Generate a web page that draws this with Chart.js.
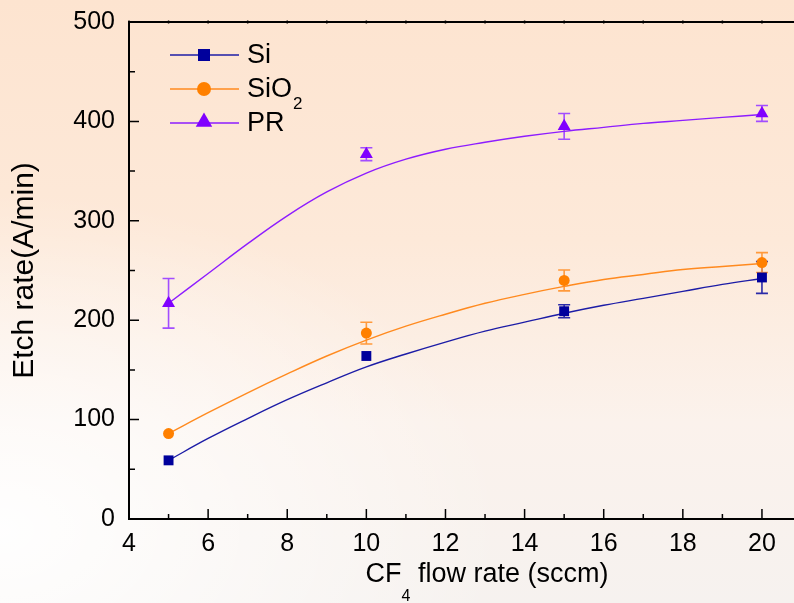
<!DOCTYPE html>
<html>
<head>
<meta charset="utf-8">
<script src="https://cdn.jsdelivr.net/npm/chart.js@4.4.1/dist/chart.umd.min.js"></script>
<style>
    html, body { margin: 0; padding: 0; }
    body {
        width: 794px;
        height: 603px;
        overflow: hidden;
        background:
            radial-gradient(ellipse at 0% 88%, rgba(255,255,255,0.95) 0%, rgba(255,255,255,0) 45%),
            linear-gradient(to bottom, #fde4d0 0%, #fde9d9 40%, #fbf2ec 70%, #f6f2ef 100%);
    }
    canvas { display: block; }
</style>
</head>
<body>
<canvas id="etchChart" width="794" height="603"></canvas>
<script>
// Measured points
const flowRates = [5, 10, 15, 20];
const siRate = [59, 164, 209, 243];
const siErr = [0, 0, 6.5, 16];
const sio2Rate = [86, 187, 240, 258];
const sio2Err = [0, 11, 10.5, 10];
const prRate = [217, 367, 395, 408];
const prErr = [25, 6.5, 13, 8];

// Fit curves
const fitX = [5, 6, 7, 8, 9, 10, 11, 12, 13, 14, 15, 16, 17, 18, 19, 20];
const siFit = [59, 81, 101, 120, 137, 153, 166, 178, 189, 198, 207, 215, 222, 229, 236, 242];
const sio2Fit = [86, 107, 127, 146, 164, 180, 194, 206, 217, 226, 234, 241, 246, 251, 254, 257];
const prFit = [217, 247, 277, 305, 329, 348, 362, 372, 379, 385, 390, 394, 398, 401, 404, 407];

const seriesNames = ['Si', 'SiO', 'PR'];
const FONT = "'Liberation Sans', Arial, sans-serif";

const colors = {
    si: { mark: '#00009c', line: '#1c1ca6', bar: '#2a2aa8' },
    sio2: { mark: '#ff8000', line: '#ff8a1f', bar: '#ff9a3c' },
    pr: { mark: '#8000ff', line: '#8d1cff', bar: '#a24dff' }
};

function toPoints(xs, ys) {
    return xs.map((x, i) => ({ x: x, y: ys[i] }));
}

function pointSet(label, ys, c, style, radius) {
    return {
        label: label,
        data: toPoints(flowRates, ys),
        showLine: false,
        pointStyle: style,
        pointRadius: radius,
        pointBackgroundColor: c.mark,
        pointBorderColor: c.mark,
        pointBorderWidth: 0
    };
}

function fitSet(ys, c) {
    return {
        data: toPoints(fitX, ys),
        showLine: true,
        borderColor: c.line,
        borderWidth: 1.4,
        pointRadius: 0,
        tension: 0.4
    };
}

function drawMarker(ctx, style, x, y, r, color) {
    ctx.fillStyle = color;
    ctx.beginPath();
    if (style === 'rect') {
        const s = r * Math.SQRT1_2;
        ctx.rect(x - s, y - s, 2 * s, 2 * s);
    } else if (style === 'circle') {
        ctx.arc(x, y, r, 0, Math.PI * 2);
    } else {
        ctx.moveTo(x, y - r);
        ctx.lineTo(x + r * 0.866, y + r * 0.5);
        ctx.lineTo(x - r * 0.866, y + r * 0.5);
        ctx.closePath();
    }
    ctx.fill();
}

// Error bars under the markers
const errorBars = {
    id: 'errorBars',
    beforeDatasetsDraw(chart) {
        const { ctx, scales: { x, y } } = chart;
        const sets = [[siRate, siErr, colors.si], [sio2Rate, sio2Err, colors.sio2], [prRate, prErr, colors.pr]];
        ctx.save();
        ctx.lineWidth = 1.6;
        sets.forEach(([vals, errs, c]) => {
            ctx.strokeStyle = c.bar;
            flowRates.forEach((f, i) => {
                if (!errs[i]) return;
                const px = x.getPixelForValue(f);
                const top = y.getPixelForValue(vals[i] + errs[i]);
                const bot = y.getPixelForValue(vals[i] - errs[i]);
                ctx.beginPath();
                ctx.moveTo(px, top); ctx.lineTo(px, bot);
                ctx.moveTo(px - 6, top); ctx.lineTo(px + 6, top);
                ctx.moveTo(px - 6, bot); ctx.lineTo(px + 6, bot);
                ctx.stroke();
            });
        });
        ctx.restore();
    }
};

// Inner ticks, top axis, titles and legend
const decorations = {
    id: 'decorations',
    afterDraw(chart) {
        const { ctx, chartArea: a, scales: { x, y } } = chart;
        ctx.save();
        ctx.strokeStyle = '#000';

        // top axis
        ctx.lineWidth = 2;
        ctx.beginPath();
        ctx.moveTo(a.left, a.top); ctx.lineTo(a.right, a.top);
        ctx.stroke();

        ctx.lineWidth = 1.5;
        ctx.beginPath();
        for (let v = 4; v <= 20; v++) {
            const px = x.getPixelForValue(v);
            const len = v % 2 === 0 ? 10 : 5;
            ctx.moveTo(px, a.bottom); ctx.lineTo(px, a.bottom - len);
            ctx.moveTo(px, a.top - 1.5); ctx.lineTo(px, a.top + 1.5);
        }
        for (let v = 0; v <= 500; v += 50) {
            const py = y.getPixelForValue(v);
            const len = v % 100 === 0 ? 10 : 6;
            ctx.moveTo(a.left, py); ctx.lineTo(a.left + len, py);
        }
        ctx.stroke();

        // axis titles
        ctx.fillStyle = '#000';
        ctx.textBaseline = 'alphabetic';
        ctx.font = '27px ' + FONT;
        const w1 = ctx.measureText('CF').width;
        const w3 = ctx.measureText(' flow rate (sccm)').width;
        ctx.font = '16px ' + FONT;
        const w2 = ctx.measureText('4').width;
        const tx = 487 - (w1 + w2 + w3) / 2;
        ctx.font = '27px ' + FONT;
        ctx.fillText('CF', tx, 582);
        ctx.font = '16px ' + FONT;
        ctx.fillText('4', tx + w1, 601);
        ctx.font = '27px ' + FONT;
        ctx.fillText(' flow rate (sccm)', tx + w1 + w2, 582);

        ctx.save();
        ctx.translate(33, (a.top + a.bottom) / 2);
        ctx.rotate(-Math.PI / 2);
        ctx.textAlign = 'center';
        ctx.font = '30px ' + FONT;
        ctx.fillText('Etch rate(A/min)', 0, 0);
        ctx.restore();

        // legend
        const rows = [
            [colors.si, 'rect', 8.5, 55],
            [colors.sio2, 'circle', 7, 89],
            [colors.pr, 'triangle', 9.5, 123]
        ];
        rows.forEach(([c, style, r, ly], i) => {
            ctx.strokeStyle = c.line;
            ctx.lineWidth = 1.6;
            ctx.beginPath();
            ctx.moveTo(170, ly); ctx.lineTo(239, ly);
            ctx.stroke();
            drawMarker(ctx, style, 204, style === 'triangle' ? ly - 1 : ly, r, c.mark);
            ctx.fillStyle = '#000';
            ctx.font = '27px ' + FONT;
            ctx.textBaseline = 'middle';
            ctx.fillText(seriesNames[i], 247, ly + 1);
            if (i === 1) {
                const sw = ctx.measureText(seriesNames[i]).width;
                ctx.font = '17px ' + FONT;
                ctx.textBaseline = 'alphabetic';
                ctx.fillText('2', 247 + sw + 1, ly + 20);
            }
        });
        ctx.restore();
    }
};

document.addEventListener('DOMContentLoaded', () => {
    const ctx = document.getElementById('etchChart').getContext('2d');
    new Chart(ctx, {
        type: 'scatter',
        data: {
            datasets: [
                pointSet('Si', siRate, colors.si, 'rect', 7),
                pointSet('SiO2', sio2Rate, colors.sio2, 'circle', 5.5),
                pointSet('PR', prRate, colors.pr, 'triangle', 7.5),
                fitSet(siFit, colors.si),
                fitSet(sio2Fit, colors.sio2),
                fitSet(prFit, colors.pr)
            ]
        },
        options: {
            responsive: false,
            animation: false,
            devicePixelRatio: 1,
            layout: { autoPadding: false, padding: { top: 22, left: 0, right: 0, bottom: 0 } },
            plugins: {
                legend: { display: false },
                tooltip: { enabled: false }
            },
            scales: {
                x: {
                    type: 'linear',
                    min: 4,
                    max: 20.81,
                    grid: { display: false, drawTicks: false },
                    border: { display: true, color: '#000', width: 2 },
                    ticks: {
                        stepSize: 2,
                        includeBounds: false,
                        padding: 10,
                        color: '#000',
                        font: { family: FONT, size: 25 }
                    },
                    afterFit(scale) {
                        scale.height = 84;
                        scale.paddingLeft = 0;
                        scale.paddingRight = 0;
                    }
                },
                y: {
                    min: 0,
                    max: 500,
                    grid: { display: false, drawTicks: false },
                    border: { display: true, color: '#000', width: 2 },
                    ticks: {
                        stepSize: 100,
                        padding: 14,
                        color: '#000',
                        font: { family: FONT, size: 25 }
                    },
                    afterFit(scale) {
                        scale.width = 129;
                        scale.paddingTop = 0;
                        scale.paddingBottom = 0;
                    }
                }
            }
        },
        plugins: [errorBars, decorations]
    });
});
</script>
</body>
</html>
